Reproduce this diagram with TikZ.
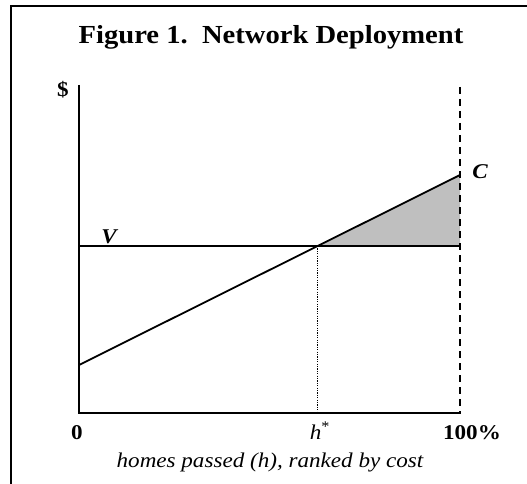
\documentclass[tikz,border=0pt]{standalone}
\usepackage{fontspec}
\setmainfont{Liberation Serif}[FakeStretch=1.1]
\begin{document}
\begin{tikzpicture}[x=1pt,y=-1pt,
  frame/.style={line width=2.2pt},
  axis/.style={line width=2.4pt},
  curve/.style={line width=1.8pt},
  lbl/.style={inner sep=0pt,anchor=base,font=\fontsize{21}{24}\selectfont\bfseries},
  ilbl/.style={inner sep=0pt,anchor=base,font=\fontsize{21}{24}\selectfont\itshape},
  bilbl/.style={inner sep=0pt,anchor=base,font=\fontsize{21}{24}\selectfont\bfseries\itshape}]
\useasboundingbox (0,0) rectangle (527,484);
% frame (top and left only)
\draw[frame] (11,484) -- (11,6) -- (527,6);
\node[inner sep=0pt,anchor=base,font=\fontsize{26}{28}\selectfont\bfseries] (title) at (271,44) {Figure 1.\ \ Network Deployment};
% axes
\coordinate (O) at (79,413);
\coordinate (Ytop) at (79,85);
\coordinate (Xend) at (461,413);
\coordinate (Dtop) at (460,87);
\coordinate (C0) at (79,365);
\coordinate (C1) at (460,175);
\coordinate (V0) at (79,246);
\coordinate (V1) at (460,246);
\coordinate (Hs) at (317.6,246);
\coordinate (Hb) at (317.6,413);
\fill[gray!50] (Hs) -- (C1) -- (V1) -- cycle;
\draw[axis] (Ytop) -- (O) -- (Xend);
\draw[line width=2.2pt,dash pattern=on 7pt off 5pt] (Dtop) -- (460,413);
\draw[curve] (V0) -- (V1);
\draw[curve] (C0) -- (C1);
\draw[line width=1.3pt,dash pattern=on 1.2pt off 1.2pt] (Hs) -- (Hb);
% labels
\node[lbl] (dollar) at (63,97) {\$};
\node[bilbl] (V) at (109,243) {V};
\node[bilbl] (C) at (480,178) {C};
\node[lbl] (zero) at (77,439) {0};
\node[ilbl] (h) at (320,439) {h\textsuperscript{\upshape*}};
\node[lbl] (hundred) at (472,439) {100\%};
\node[ilbl] (xlab) at (270,467) {homes passed (h), ranked by cost};
\end{tikzpicture}
\end{document}
